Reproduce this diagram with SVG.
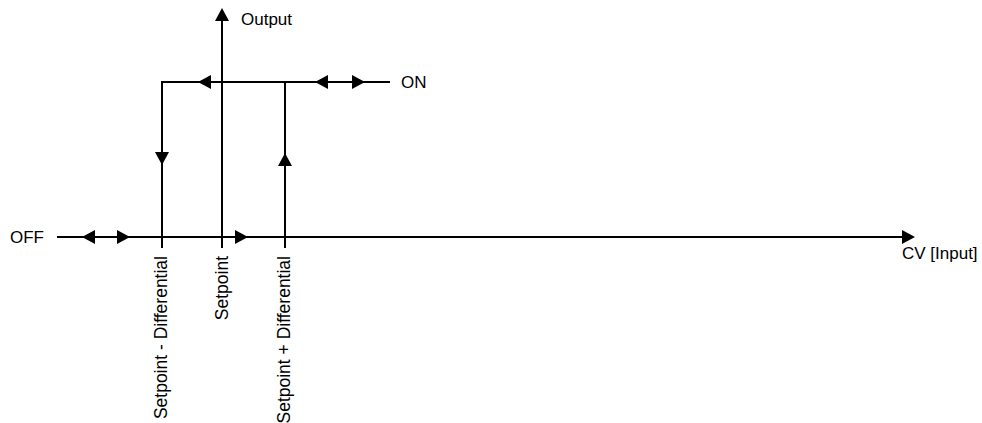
<svg xmlns="http://www.w3.org/2000/svg" xmlns:xlink="http://www.w3.org/1999/xlink" width="982" height="423" viewBox="0 0 982 423">
  <style>
    .ln { stroke: #000; stroke-width: 2; fill: none; }
    .ah { fill: #000; }
    .t { font-family: "Liberation Sans", Arial, sans-serif; font-size: 17px; fill: #000; }
    .r { font-size: 17.5px; }
  </style>
  <defs>
    <path id="ah" class="ah" d="M0,0 L-13,-7 L-13,7 Z"/>
  </defs>
  <rect width="982" height="423" fill="#fff"/>
  <g id="connectors">
    <line class="ln" x1="57" y1="237" x2="908" y2="237"/>
    <line class="ln" x1="222" y1="14" x2="222" y2="248"/>
    <line class="ln" x1="162" y1="82" x2="390" y2="82"/>
    <line class="ln" x1="162" y1="81" x2="162" y2="248"/>
    <line class="ln" x1="285" y1="82" x2="285" y2="248"/>
    <use xlink:href="#ah" transform="translate(222,8) rotate(-90)"/>
    <use xlink:href="#ah" transform="translate(915,237)"/>
    <use xlink:href="#ah" transform="translate(198,82) rotate(180)"/>
    <use xlink:href="#ah" transform="translate(315,82) rotate(180)"/>
    <use xlink:href="#ah" transform="translate(365,82)"/>
    <use xlink:href="#ah" transform="translate(162,165) rotate(90)"/>
    <use xlink:href="#ah" transform="translate(285,153) rotate(-90)"/>
    <use xlink:href="#ah" transform="translate(82,237) rotate(180)"/>
    <use xlink:href="#ah" transform="translate(130,237)"/>
    <use xlink:href="#ah" transform="translate(248,237)"/>
  </g>
  <g id="output-label"><text class="t" x="241" y="25">Output</text></g>
  <g id="on-label"><text class="t" x="401" y="88">ON</text></g>
  <g id="off-label"><text class="t" x="10" y="243">OFF</text></g>
  <g id="cv-label"><text class="t" x="902" y="259">CV [Input]</text></g>
  <g id="sp-minus-label"><text class="t r" text-anchor="end" transform="translate(167,256) rotate(-90)">Setpoint - Differential</text></g>
  <g id="sp-label"><text class="t r" text-anchor="end" transform="translate(228,256) rotate(-90)">Setpoint</text></g>
  <g id="sp-plus-label"><text class="t r" text-anchor="end" transform="translate(290,256) rotate(-90)">Setpoint + Differential</text></g>
</svg>
